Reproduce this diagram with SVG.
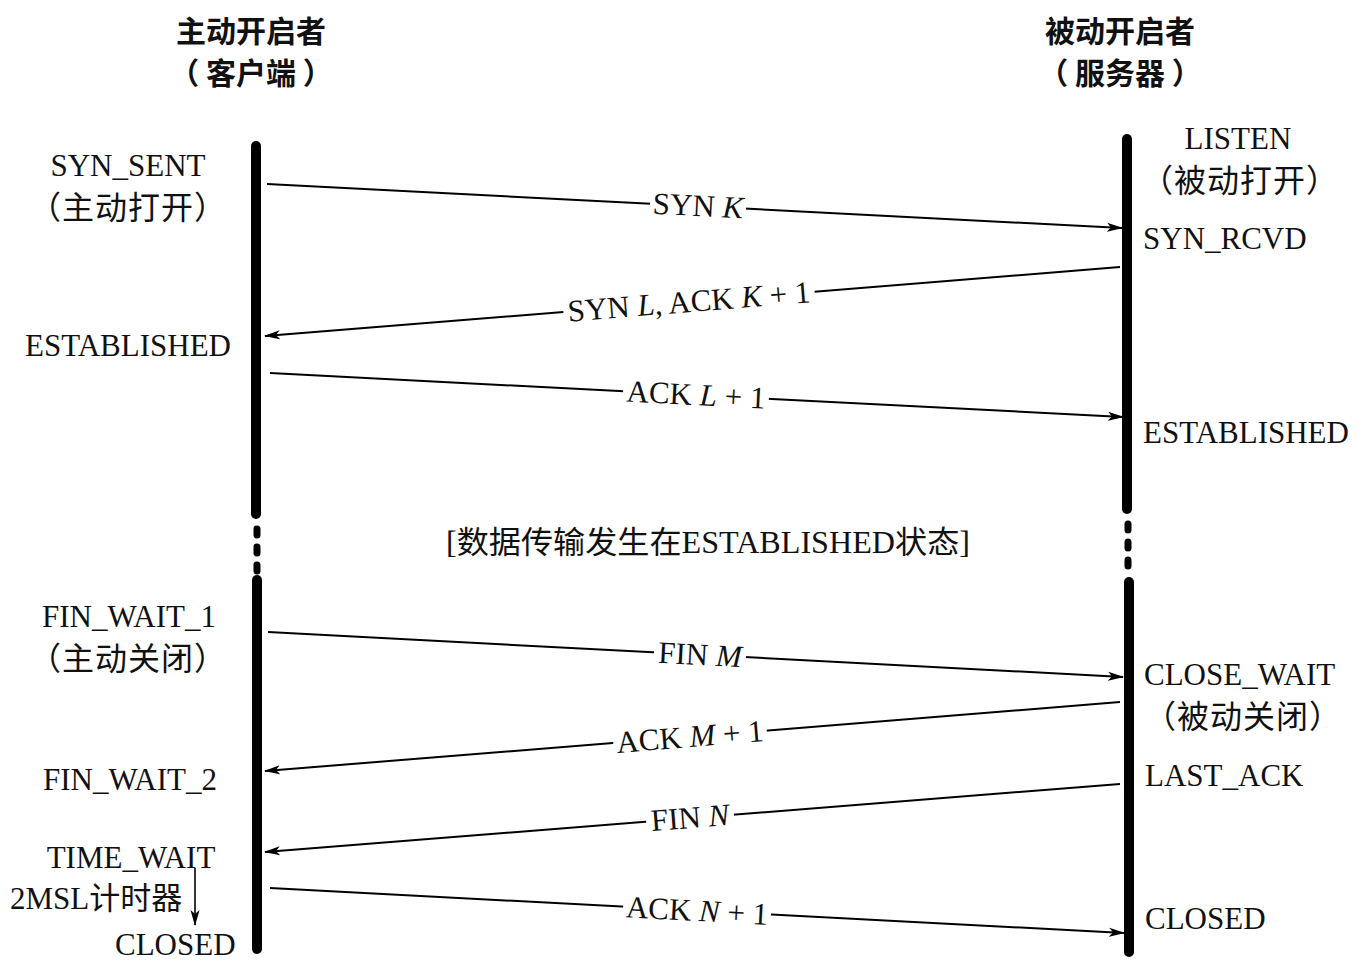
<svg xmlns="http://www.w3.org/2000/svg" width="1367" height="969" viewBox="0 0 1367 969">
<defs>
<style>
.t{font-family:"Liberation Serif","Noto Sans CJK SC",serif;font-size:31px;fill:#111}
.z{font-size:32px;letter-spacing:1px}
.h{font-family:"Noto Sans CJK SC",sans-serif;font-size:30px;font-weight:bold;fill:#111}
.c{text-anchor:middle}
.i{font-style:italic}
.life{stroke:#000;stroke-width:10;stroke-linecap:round;fill:none}
.dash{stroke:#000;stroke-width:7;stroke-linecap:round;stroke-dasharray:6 12;fill:none}
.msg{stroke:#000;stroke-width:2;fill:none;marker-end:url(#ah)}
.bg{fill:#fff}
</style>
<marker id="ah" viewBox="0 0 16 10" refX="15" refY="5" markerWidth="16" markerHeight="10" markerUnits="userSpaceOnUse" orient="auto">
<path d="M0,0.5 L16,5 L0,9.5 L4,5 Z" fill="#000"/>
</marker>
</defs>
<rect width="1367" height="969" fill="#fff"/>

<g id="client">
<text class="h c" x="251" y="42">主动开启者</text>
<text class="h c" x="251" y="84">（ 客户端 ）</text>
<line class="life" x1="256" y1="146" x2="256" y2="514"/>
<line class="dash" x1="257" y1="529" x2="257" y2="572"/>
<line class="life" x1="257" y1="580" x2="257" y2="949"/>
</g>

<g id="server">
<text class="h c" x="1120" y="42">被动开启者</text>
<text class="h c" x="1120" y="84">（ 服务器 ）</text>
<line class="life" x1="1127" y1="139" x2="1127" y2="509"/>
<line class="dash" x1="1128" y1="524" x2="1128" y2="567"/>
<line class="life" x1="1129" y1="582" x2="1129" y2="952"/>
</g>

<g id="client-states">
<text class="t c" x="128" y="176">SYN_SENT</text>
<text class="t c z" x="128" y="219">（主动打开）</text>
<text class="t c" x="128" y="356">ESTABLISHED</text>
<text class="t c" x="129" y="627">FIN_WAIT_1</text>
<text class="t c z" x="128" y="670">（主动关闭）</text>
<text class="t c" x="130" y="790">FIN_WAIT_2</text>
<text class="t c" x="131" y="868">TIME_WAIT</text>
<text class="t" x="10" y="909">2MSL计时器</text>
<text class="t" x="115" y="955">CLOSED</text>
</g>

<g id="server-states">
<text class="t c" x="1238" y="149">LISTEN</text>
<text class="t c z" x="1240" y="192">（被动打开）</text>
<text class="t" x="1143" y="249">SYN_RCVD</text>
<text class="t" x="1143" y="443">ESTABLISHED</text>
<text class="t" x="1144" y="685">CLOSE_WAIT</text>
<text class="t c z" x="1243" y="728">（被动关闭）</text>
<text class="t" x="1145" y="786">LAST_ACK</text>
<text class="t" x="1145" y="929">CLOSED</text>
</g>

<g id="note">
<text class="t c" x="708" y="553" textLength="524" lengthAdjust="spacingAndGlyphs">[数据传输发生在ESTABLISHED状态]</text>
</g>

<g id="connectors">
<line class="msg" x1="267" y1="184" x2="1122" y2="228"/>
<line class="msg" x1="1120" y1="267" x2="265" y2="336"/>
<line class="msg" x1="270" y1="373" x2="1123" y2="417"/>
<line class="msg" x1="268" y1="632" x2="1123" y2="677"/>
<line class="msg" x1="1120" y1="702" x2="265" y2="771"/>
<line class="msg" x1="1120" y1="784" x2="265" y2="852"/>
<line class="msg" x1="270" y1="888" x2="1124" y2="933"/>
<line class="msg" x1="195" y1="868" x2="195" y2="925" style="stroke-width:1.6"/>

<g transform="rotate(2.95 698 206)">
<rect class="bg" x="650" y="192" width="96" height="28"/>
<text class="t c" x="698" y="216">SYN <tspan class="i">K</tspan></text>
</g>
<g transform="rotate(-4.6 689 302)">
<rect class="bg" x="563" y="288" width="252" height="28"/>
<text class="t c" x="689" y="312">SYN <tspan class="i">L</tspan>, ACK <tspan class="i">K</tspan> + 1</text>
</g>
<g transform="rotate(2.95 696 395)">
<rect class="bg" x="623" y="381" width="146" height="28"/>
<text class="t c" x="696" y="405">ACK <tspan class="i">L</tspan> + 1</text>
</g>
<g transform="rotate(3 700 655)">
<rect class="bg" x="654" y="641" width="92" height="28"/>
<text class="t c" x="700" y="665">FIN <tspan class="i">M</tspan></text>
</g>
<g transform="rotate(-4.6 690 737)">
<rect class="bg" x="613" y="723" width="154" height="28"/>
<text class="t c" x="690" y="747">ACK <tspan class="i">M</tspan> + 1</text>
</g>
<g transform="rotate(-4.55 690 818)">
<rect class="bg" x="646" y="804" width="88" height="28"/>
<text class="t c" x="690" y="828">FIN <tspan class="i">N</tspan></text>
</g>
<g transform="rotate(3 697 911)">
<rect class="bg" x="623" y="897" width="148" height="28"/>
<text class="t c" x="697" y="921">ACK <tspan class="i">N</tspan> + 1</text>
</g>
</g>
</svg>
